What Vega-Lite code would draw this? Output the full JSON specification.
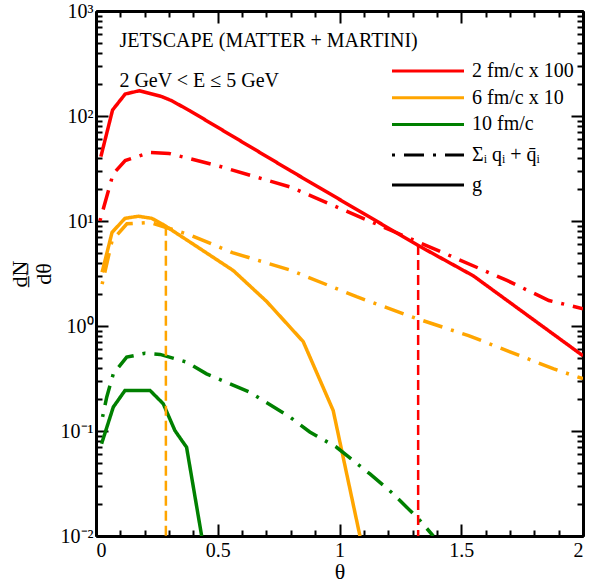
{
  "$schema": "https://vega.github.io/schema/vega-lite/v6.json",
  "width": 487,
  "height": 525,
  "autosize": {"type": "none"},
  "padding": {"left": 96, "top": 11, "right": 22, "bottom": 48},
  "background": "white",
  "config": {
    "view": {"stroke": null},
    "font": "Liberation Serif",
    "axis": {
      "grid": false,
      "domainColor": "black",
      "domainWidth": 3,
      "tickColor": "black",
      "tickWidth": 2,
      "labelColor": "black",
      "titleColor": "black",
      "labelFont": "Liberation Serif",
      "titleFont": "Liberation Serif",
      "labelFontSize": 20,
      "titleFontWeight": "normal"
    },
    "legend": {
      "labelFont": "Liberation Serif",
      "labelFontSize": 20,
      "labelColor": "black"
    }
  },
  "datasets": {
    "curves": [
      {"series": "2 fm/c x 100", "parton": "g", "theta": 0.02, "dNdtheta": 41},
      {"series": "2 fm/c x 100", "parton": "g", "theta": 0.068, "dNdtheta": 114},
      {"series": "2 fm/c x 100", "parton": "g", "theta": 0.12, "dNdtheta": 162},
      {"series": "2 fm/c x 100", "parton": "g", "theta": 0.178, "dNdtheta": 174},
      {"series": "2 fm/c x 100", "parton": "g", "theta": 0.27, "dNdtheta": 153},
      {"series": "2 fm/c x 100", "parton": "g", "theta": 0.31, "dNdtheta": 140},
      {"series": "2 fm/c x 100", "parton": "g", "theta": 0.386, "dNdtheta": 112},
      {"series": "2 fm/c x 100", "parton": "g", "theta": 0.8, "dNdtheta": 30},
      {"series": "2 fm/c x 100", "parton": "g", "theta": 1.32, "dNdtheta": 5.9},
      {"series": "2 fm/c x 100", "parton": "g", "theta": 1.55, "dNdtheta": 3.0},
      {"series": "2 fm/c x 100", "parton": "g", "theta": 2.0, "dNdtheta": 0.52},
      {"series": "2 fm/c x 100", "parton": "Σᵢ qᵢ + q̄ᵢ", "theta": 0.016, "dNdtheta": 10},
      {"series": "2 fm/c x 100", "parton": "Σᵢ qᵢ + q̄ᵢ", "theta": 0.07, "dNdtheta": 28},
      {"series": "2 fm/c x 100", "parton": "Σᵢ qᵢ + q̄ᵢ", "theta": 0.12, "dNdtheta": 37.6},
      {"series": "2 fm/c x 100", "parton": "Σᵢ qᵢ + q̄ᵢ", "theta": 0.22, "dNdtheta": 45},
      {"series": "2 fm/c x 100", "parton": "Σᵢ qᵢ + q̄ᵢ", "theta": 0.3, "dNdtheta": 44},
      {"series": "2 fm/c x 100", "parton": "Σᵢ qᵢ + q̄ᵢ", "theta": 0.5, "dNdtheta": 33.6},
      {"series": "2 fm/c x 100", "parton": "Σᵢ qᵢ + q̄ᵢ", "theta": 0.8, "dNdtheta": 21},
      {"series": "2 fm/c x 100", "parton": "Σᵢ qᵢ + q̄ᵢ", "theta": 1.47, "dNdtheta": 4.5},
      {"series": "2 fm/c x 100", "parton": "Σᵢ qᵢ + q̄ᵢ", "theta": 1.69, "dNdtheta": 2.7},
      {"series": "2 fm/c x 100", "parton": "Σᵢ qᵢ + q̄ᵢ", "theta": 1.86, "dNdtheta": 1.75},
      {"series": "2 fm/c x 100", "parton": "Σᵢ qᵢ + q̄ᵢ", "theta": 2.0, "dNdtheta": 1.46},
      {"series": "6 fm/c x 10", "parton": "g", "theta": 0.025, "dNdtheta": 3.25},
      {"series": "6 fm/c x 10", "parton": "g", "theta": 0.066, "dNdtheta": 7.8},
      {"series": "6 fm/c x 10", "parton": "g", "theta": 0.119, "dNdtheta": 10.6},
      {"series": "6 fm/c x 10", "parton": "g", "theta": 0.174, "dNdtheta": 11.1},
      {"series": "6 fm/c x 10", "parton": "g", "theta": 0.229, "dNdtheta": 10.6},
      {"series": "6 fm/c x 10", "parton": "g", "theta": 0.276, "dNdtheta": 9.25},
      {"series": "6 fm/c x 10", "parton": "g", "theta": 0.4, "dNdtheta": 6.0},
      {"series": "6 fm/c x 10", "parton": "g", "theta": 0.564, "dNdtheta": 3.37},
      {"series": "6 fm/c x 10", "parton": "g", "theta": 0.7, "dNdtheta": 1.72},
      {"series": "6 fm/c x 10", "parton": "g", "theta": 0.851, "dNdtheta": 0.71},
      {"series": "6 fm/c x 10", "parton": "g", "theta": 0.974, "dNdtheta": 0.157},
      {"series": "6 fm/c x 10", "parton": "g", "theta": 1.084, "dNdtheta": 0.01},
      {"series": "6 fm/c x 10", "parton": "Σᵢ qᵢ + q̄ᵢ", "theta": 0.025, "dNdtheta": 2.5},
      {"series": "6 fm/c x 10", "parton": "Σᵢ qᵢ + q̄ᵢ", "theta": 0.066, "dNdtheta": 6.5},
      {"series": "6 fm/c x 10", "parton": "Σᵢ qᵢ + q̄ᵢ", "theta": 0.127, "dNdtheta": 9.4},
      {"series": "6 fm/c x 10", "parton": "Σᵢ qᵢ + q̄ᵢ", "theta": 0.222, "dNdtheta": 9.7},
      {"series": "6 fm/c x 10", "parton": "Σᵢ qᵢ + q̄ᵢ", "theta": 0.39, "dNdtheta": 7.3},
      {"series": "6 fm/c x 10", "parton": "Σᵢ qᵢ + q̄ᵢ", "theta": 0.56, "dNdtheta": 5.0},
      {"series": "6 fm/c x 10", "parton": "Σᵢ qᵢ + q̄ᵢ", "theta": 0.8, "dNdtheta": 3.4},
      {"series": "6 fm/c x 10", "parton": "Σᵢ qᵢ + q̄ᵢ", "theta": 1.07, "dNdtheta": 1.9},
      {"series": "6 fm/c x 10", "parton": "Σᵢ qᵢ + q̄ᵢ", "theta": 1.32, "dNdtheta": 1.17},
      {"series": "6 fm/c x 10", "parton": "Σᵢ qᵢ + q̄ᵢ", "theta": 1.53, "dNdtheta": 0.81},
      {"series": "6 fm/c x 10", "parton": "Σᵢ qᵢ + q̄ᵢ", "theta": 1.88, "dNdtheta": 0.39},
      {"series": "6 fm/c x 10", "parton": "Σᵢ qᵢ + q̄ᵢ", "theta": 2.0, "dNdtheta": 0.315},
      {"series": "10 fm/c", "parton": "g", "theta": 0.023, "dNdtheta": 0.0757},
      {"series": "10 fm/c", "parton": "g", "theta": 0.071, "dNdtheta": 0.169},
      {"series": "10 fm/c", "parton": "g", "theta": 0.119, "dNdtheta": 0.243},
      {"series": "10 fm/c", "parton": "g", "theta": 0.222, "dNdtheta": 0.243},
      {"series": "10 fm/c", "parton": "g", "theta": 0.276, "dNdtheta": 0.182},
      {"series": "10 fm/c", "parton": "g", "theta": 0.324, "dNdtheta": 0.101},
      {"series": "10 fm/c", "parton": "g", "theta": 0.372, "dNdtheta": 0.07},
      {"series": "10 fm/c", "parton": "g", "theta": 0.434, "dNdtheta": 0.01},
      {"series": "10 fm/c", "parton": "Σᵢ qᵢ + q̄ᵢ", "theta": 0.027, "dNdtheta": 0.136},
      {"series": "10 fm/c", "parton": "Σᵢ qᵢ + q̄ᵢ", "theta": 0.044, "dNdtheta": 0.21},
      {"series": "10 fm/c", "parton": "Σᵢ qᵢ + q̄ᵢ", "theta": 0.071, "dNdtheta": 0.35},
      {"series": "10 fm/c", "parton": "Σᵢ qᵢ + q̄ᵢ", "theta": 0.126, "dNdtheta": 0.505},
      {"series": "10 fm/c", "parton": "Σᵢ qᵢ + q̄ᵢ", "theta": 0.201, "dNdtheta": 0.55},
      {"series": "10 fm/c", "parton": "Σᵢ qᵢ + q̄ᵢ", "theta": 0.263, "dNdtheta": 0.536},
      {"series": "10 fm/c", "parton": "Σᵢ qᵢ + q̄ᵢ", "theta": 0.372, "dNdtheta": 0.453},
      {"series": "10 fm/c", "parton": "Σᵢ qᵢ + q̄ᵢ", "theta": 0.454, "dNdtheta": 0.35},
      {"series": "10 fm/c", "parton": "Σᵢ qᵢ + q̄ᵢ", "theta": 0.632, "dNdtheta": 0.234},
      {"series": "10 fm/c", "parton": "Σᵢ qᵢ + q̄ᵢ", "theta": 0.796, "dNdtheta": 0.136},
      {"series": "10 fm/c", "parton": "Σᵢ qᵢ + q̄ᵢ", "theta": 0.878, "dNdtheta": 0.098},
      {"series": "10 fm/c", "parton": "Σᵢ qᵢ + q̄ᵢ", "theta": 0.988, "dNdtheta": 0.07},
      {"series": "10 fm/c", "parton": "Σᵢ qᵢ + q̄ᵢ", "theta": 1.125, "dNdtheta": 0.039},
      {"series": "10 fm/c", "parton": "Σᵢ qᵢ + q̄ᵢ", "theta": 1.22, "dNdtheta": 0.0253},
      {"series": "10 fm/c", "parton": "Σᵢ qᵢ + q̄ᵢ", "theta": 1.33, "dNdtheta": 0.0141},
      {"series": "10 fm/c", "parton": "Σᵢ qᵢ + q̄ᵢ", "theta": 1.385, "dNdtheta": 0.01}
    ],
    "markers": [
      {"series": "6 fm/c x 10", "theta": 0.287, "dNdtheta": 9.0},
      {"series": "2 fm/c x 100", "theta": 1.323, "dNdtheta": 5.9}
    ],
    "note1": [{"label": "JETSCAPE (MATTER + MARTINI)", "theta": 0.096, "dNdtheta": 450}],
    "note2": [{"label": "2 GeV < E ≤ 5 GeV", "theta": 0.096, "dNdtheta": 190}]
  },
  "layer": [
    {
      "data": {"name": "curves"},
      "mark": {"type": "line", "strokeWidth": 3.5, "clip": true},
      "encoding": {
        "x": {
          "field": "theta", "type": "quantitative",
          "scale": {"domain": [0, 2], "nice": false, "zero": false},
          "axis": {
            "orient": "bottom", "values": [0, 0.5, 1, 1.5, 2],
            "tickSize": -12, "labelExpr": "'' + datum.value", "labelPadding": 16,
            "title": "θ", "titleFontSize": 22, "titlePadding": 1
          }
        },
        "y": {
          "field": "dNdtheta", "type": "quantitative",
          "scale": {"type": "log", "domain": [0.01, 1000], "nice": false},
          "axis": {
            "orient": "left", "values": [0.01, 0.1, 1, 10, 100, 1000],
            "tickSize": -12, "labelPadding": 15,
            "labelExpr": "datum.value == 1000 ? '10³' : datum.value == 100 ? '10²' : datum.value == 10 ? '10¹' : datum.value == 1 ? '10⁰' : datum.value == 0.1 ? '10⁻¹' : '10⁻²'",
            "title": ["d̲N̲", "dθ"], "titleFontSize": 22, "titlePadding": 5
          }
        },
        "color": {
          "field": "series", "type": "nominal",
          "scale": {"domain": ["2 fm/c x 100", "6 fm/c x 10", "10 fm/c"], "range": ["#ff0000", "#ffa500", "#008000"]},
          "legend": {
            "orient": "none", "legendX": 322, "legendY": 50, "title": null,
            "symbolType": "M-6,0H6", "symbolSize": 144, "symbolStrokeWidth": 3,
            "labelOffset": 34, "rowPadding": 6.7, "padding": 0
          }
        },
        "strokeDash": {
          "field": "parton", "type": "nominal",
          "scale": {"domain": ["Σᵢ qᵢ + q̄ᵢ", "g"], "range": [[3, 9, 20, 9], [1, 0]]},
          "legend": {
            "orient": "none", "legendX": 322, "legendY": 134, "title": null,
            "symbolType": "M-6,0H6", "symbolSize": 144, "symbolStrokeWidth": 3,
            "symbolStrokeColor": "black",
            "labelOffset": 34, "rowPadding": 10, "padding": 0
          }
        }
      }
    },
    {
      "data": {"name": "markers"},
      "mark": {"type": "rule", "strokeWidth": 2.5, "strokeDash": [10, 5]},
      "encoding": {
        "x": {
          "field": "theta", "type": "quantitative",
          "axis": {
            "orient": "bottom", "values": [0.1, 0.2, 0.3, 0.4, 0.6, 0.7, 0.8, 0.9, 1.1, 1.2, 1.3, 1.4, 1.6, 1.7, 1.8, 1.9],
            "tickSize": -6, "labels": false, "title": null
          }
        },
        "y": {
          "field": "dNdtheta", "type": "quantitative",
          "axis": {
            "orient": "left",
            "values": [0.02, 0.03, 0.04, 0.05, 0.06, 0.07, 0.08, 0.09, 0.2, 0.3, 0.4, 0.5, 0.6, 0.7, 0.8, 0.9, 2, 3, 4, 5, 6, 7, 8, 9, 20, 30, 40, 50, 60, 70, 80, 90, 200, 300, 400, 500, 600, 700, 800, 900],
            "tickSize": -6, "labels": false, "title": null
          }
        },
        "y2": {"datum": 0.01},
        "color": {"field": "series", "type": "nominal"}
      }
    },
    {
      "data": {"name": "note1"},
      "mark": {"type": "text", "align": "left", "baseline": "alphabetic", "font": "Liberation Serif", "fontSize": 20, "color": "black"},
      "encoding": {
        "x": {
          "field": "theta", "type": "quantitative",
          "axis": {"orient": "top", "values": [0, 0.5, 1, 1.5, 2], "tickSize": -12, "labels": false, "title": null}
        },
        "y": {
          "field": "dNdtheta", "type": "quantitative",
          "axis": {"orient": "right", "values": [0.01, 0.1, 1, 10, 100, 1000], "tickSize": -12, "labels": false, "title": null}
        },
        "text": {"field": "label"}
      }
    },
    {
      "data": {"name": "note2"},
      "mark": {"type": "text", "align": "left", "baseline": "alphabetic", "font": "Liberation Serif", "fontSize": 20, "color": "black"},
      "encoding": {
        "x": {
          "field": "theta", "type": "quantitative",
          "axis": {
            "orient": "top", "values": [0.1, 0.2, 0.3, 0.4, 0.6, 0.7, 0.8, 0.9, 1.1, 1.2, 1.3, 1.4, 1.6, 1.7, 1.8, 1.9],
            "tickSize": -6, "labels": false, "title": null
          }
        },
        "y": {
          "field": "dNdtheta", "type": "quantitative",
          "axis": {
            "orient": "right",
            "values": [0.02, 0.03, 0.04, 0.05, 0.06, 0.07, 0.08, 0.09, 0.2, 0.3, 0.4, 0.5, 0.6, 0.7, 0.8, 0.9, 2, 3, 4, 5, 6, 7, 8, 9, 20, 30, 40, 50, 60, 70, 80, 90, 200, 300, 400, 500, 600, 700, 800, 900],
            "tickSize": -6, "labels": false, "title": null
          }
        },
        "text": {"field": "label"}
      }
    }
  ],
  "resolve": {"axis": {"x": "independent", "y": "independent"}}
}
